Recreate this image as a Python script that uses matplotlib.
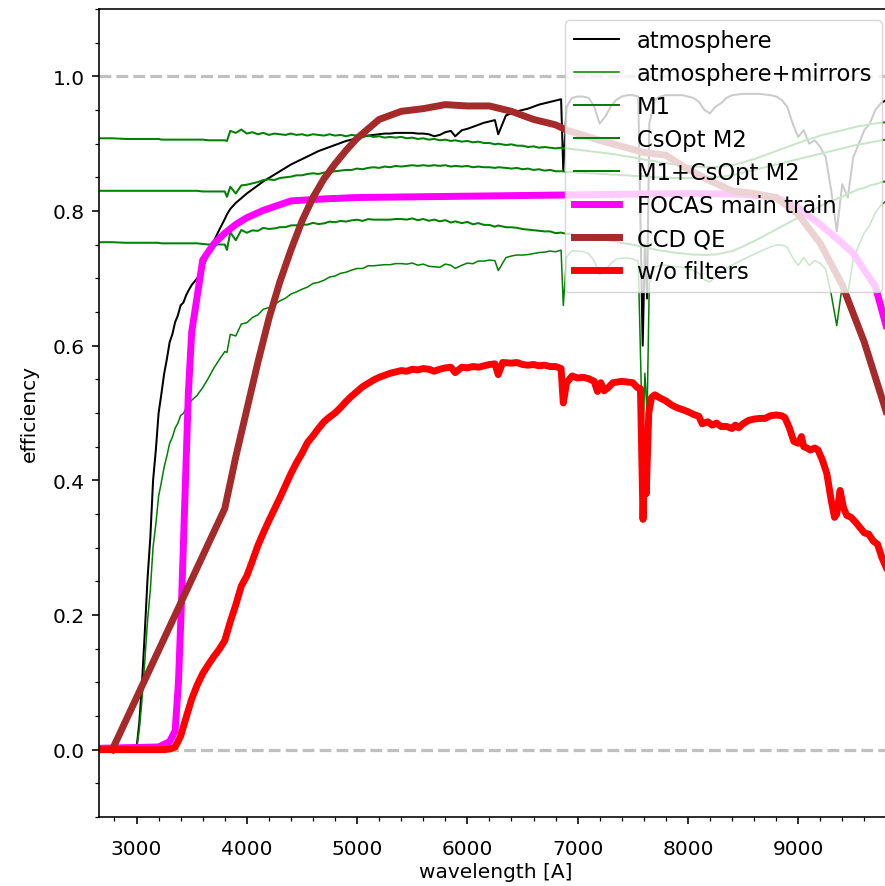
import numpy as np
import matplotlib
matplotlib.use("Agg")
import matplotlib.pyplot as plt

# shared wavelength grid for atmosphere and the two mirror reflectivities [A]
wave = [
    2650, 2780, 2900, 2950, 3000, 3025, 3050, 3075, 3100, 3125,
    3150, 3175, 3200, 3225, 3250, 3275, 3300, 3325, 3350, 3375,
    3400, 3425, 3450, 3475, 3500, 3550, 3600, 3650, 3700, 3750,
    3800, 3820, 3850, 3900, 3950, 4000, 4050, 4100, 4150, 4200,
    4250, 4300, 4350, 4400, 4450, 4500, 4550, 4600, 4650, 4700,
    4750, 4800, 4850, 4900, 4950, 5000, 5050, 5100, 5150, 5200,
    5250, 5300, 5350, 5400, 5450, 5500, 5550, 5600, 5650, 5700,
    5750, 5800, 5850, 5890, 5950, 6000, 6050, 6100, 6150, 6200,
    6250, 6280, 6350, 6400, 6450, 6500, 6550, 6600, 6650, 6700,
    6750, 6800, 6850, 6870, 6900, 6950, 7000, 7050, 7100, 7150,
    7200, 7250, 7300, 7350, 7400, 7450, 7500, 7550, 7590, 7610,
    7630, 7650, 7700, 7750, 7800, 7850, 7900, 7950, 8000, 8050,
    8100, 8150, 8200, 8250, 8300, 8350, 8400, 8450, 8500, 8550,
    8600, 8650, 8700, 8750, 8800, 8850, 8900, 8950, 9000, 9050,
    9100, 9150, 9200, 9250, 9300, 9350, 9400, 9450, 9500, 9550,
    9600, 9650, 9700, 9750, 9800, 9850]

atm = [
    0.000, 0.000, 0.000, 0.000, 0.002, 0.040, 0.100, 0.175, 0.255, 0.315,
    0.400, 0.445, 0.500, 0.528, 0.558, 0.580, 0.605, 0.617, 0.635, 0.645,
    0.660, 0.664, 0.675, 0.683, 0.690, 0.700, 0.716, 0.735, 0.755, 0.772,
    0.788, 0.795, 0.803, 0.812, 0.819, 0.826, 0.832, 0.838, 0.844, 0.849,
    0.854, 0.859, 0.864, 0.869, 0.873, 0.877, 0.881, 0.885, 0.889, 0.892,
    0.895, 0.898, 0.901, 0.904, 0.906, 0.908, 0.910, 0.912, 0.913, 0.914,
    0.915, 0.915, 0.916, 0.916, 0.916, 0.916, 0.915, 0.915, 0.914, 0.911,
    0.913, 0.917, 0.919, 0.911, 0.920, 0.922, 0.925, 0.928, 0.931, 0.933,
    0.935, 0.914, 0.942, 0.945, 0.948, 0.950, 0.952, 0.955, 0.958, 0.960,
    0.962, 0.964, 0.966, 0.860, 0.955, 0.968, 0.970, 0.970, 0.968, 0.955,
    0.930, 0.940, 0.955, 0.965, 0.970, 0.972, 0.972, 0.970, 0.600, 0.750,
    0.670, 0.930, 0.965, 0.970, 0.972, 0.972, 0.972, 0.972, 0.970, 0.968,
    0.962, 0.950, 0.945, 0.955, 0.960, 0.968, 0.972, 0.973, 0.974, 0.974,
    0.974, 0.974, 0.973, 0.972, 0.970, 0.965, 0.955, 0.930, 0.910, 0.920,
    0.900, 0.905, 0.895, 0.880, 0.830, 0.770, 0.840, 0.820, 0.880, 0.900,
    0.920, 0.930, 0.950, 0.960, 0.965, 0.965]

m1 = [
    0.908, 0.908, 0.907, 0.907, 0.907, 0.907, 0.907, 0.907, 0.907, 0.907,
    0.907, 0.907, 0.907, 0.906, 0.906, 0.906, 0.906, 0.906, 0.906, 0.906,
    0.906, 0.906, 0.906, 0.906, 0.906, 0.906, 0.906, 0.905, 0.905, 0.905,
    0.905, 0.904, 0.919, 0.916, 0.921, 0.915, 0.917, 0.914, 0.916, 0.913,
    0.915, 0.914, 0.913, 0.915, 0.913, 0.914, 0.912, 0.914, 0.913, 0.912,
    0.914, 0.912, 0.913, 0.911, 0.913, 0.912, 0.911, 0.912, 0.910, 0.911,
    0.909, 0.910, 0.909, 0.910, 0.908, 0.909, 0.907, 0.908, 0.906, 0.907,
    0.905, 0.906, 0.904, 0.905, 0.903, 0.904, 0.902, 0.903, 0.901, 0.901,
    0.899, 0.900, 0.898, 0.899, 0.897, 0.897, 0.895, 0.896, 0.894, 0.895,
    0.894, 0.893, 0.894, 0.893, 0.893, 0.892, 0.891, 0.890, 0.889, 0.888,
    0.887, 0.886, 0.885, 0.884, 0.882, 0.881, 0.880, 0.878, 0.877, 0.876,
    0.876, 0.875, 0.874, 0.872, 0.871, 0.870, 0.869, 0.868, 0.867, 0.866,
    0.866, 0.865, 0.865, 0.865, 0.866, 0.867, 0.868, 0.870, 0.872, 0.875,
    0.877, 0.880, 0.883, 0.886, 0.889, 0.892, 0.895, 0.898, 0.901, 0.904,
    0.907, 0.909, 0.912, 0.914, 0.916, 0.918, 0.920, 0.922, 0.924, 0.926,
    0.927, 0.929, 0.930, 0.931, 0.932, 0.933]

m2 = [
    0.830, 0.830, 0.830, 0.830, 0.830, 0.830, 0.830, 0.830, 0.830, 0.830,
    0.830, 0.830, 0.830, 0.830, 0.830, 0.830, 0.830, 0.830, 0.830, 0.830,
    0.830, 0.830, 0.830, 0.830, 0.830, 0.830, 0.829, 0.829, 0.829, 0.829,
    0.829, 0.821, 0.836, 0.826, 0.838, 0.839, 0.841, 0.843, 0.846, 0.847,
    0.846, 0.849, 0.850, 0.851, 0.853, 0.853, 0.855, 0.856, 0.855, 0.857,
    0.858, 0.859, 0.860, 0.861, 0.861, 0.863, 0.862, 0.864, 0.865, 0.864,
    0.866, 0.865, 0.867, 0.866, 0.867, 0.868, 0.867, 0.868, 0.867, 0.868,
    0.867, 0.868, 0.866, 0.867, 0.866, 0.867, 0.865, 0.866, 0.865, 0.865,
    0.864, 0.865, 0.864, 0.863, 0.864, 0.862, 0.863, 0.861, 0.862, 0.860,
    0.861, 0.859, 0.859, 0.859, 0.858, 0.858, 0.857, 0.857, 0.856, 0.856,
    0.855, 0.855, 0.854, 0.854, 0.853, 0.853, 0.852, 0.852, 0.852, 0.851,
    0.851, 0.851, 0.850, 0.850, 0.850, 0.849, 0.849, 0.849, 0.849, 0.849,
    0.849, 0.849, 0.850, 0.850, 0.851, 0.852, 0.853, 0.855, 0.857, 0.859,
    0.861, 0.863, 0.865, 0.867, 0.869, 0.871, 0.873, 0.875, 0.877, 0.879,
    0.881, 0.883, 0.885, 0.887, 0.889, 0.891, 0.893, 0.895, 0.897, 0.899,
    0.900, 0.902, 0.903, 0.905, 0.906, 0.907]

# FOCAS main optics throughput
focas_wave = [2650, 3200, 3300, 3350, 3380, 3410, 3440, 3470, 3500, 3600,
              3700, 3800, 3900, 4000, 4150, 4400, 4700, 5000, 6000, 7000,
              8000, 8500, 8800, 9000, 9200, 9400, 9500, 9600, 9700, 9800, 9850]
focas = [0.002, 0.004, 0.012, 0.028, 0.100, 0.230, 0.380, 0.530, 0.620, 0.727,
         0.751, 0.767, 0.780, 0.790, 0.801, 0.815, 0.818, 0.820, 0.822, 0.824,
         0.826, 0.825, 0.820, 0.805, 0.780, 0.752, 0.737, 0.712, 0.688, 0.628, 0.600]

# CCD quantum efficiency
ccd_wave = [2780, 3800, 3900, 4000, 4100, 4200, 4300, 4400, 4500, 4600,
            4700, 4800, 4900, 5000, 5200, 5400, 5600, 5800, 6000, 6200,
            6400, 6600, 6800, 6900, 7200, 7600, 7800, 8000, 8200, 8400,
            8600, 8800, 9000, 9200, 9400, 9600, 9850]
ccd = [0.000, 0.358, 0.435, 0.505, 0.575, 0.640, 0.695, 0.742, 0.785, 0.820,
       0.848, 0.870, 0.890, 0.908, 0.936, 0.948, 0.952, 0.958, 0.956, 0.956,
       0.948, 0.936, 0.928, 0.920, 0.905, 0.887, 0.883, 0.862, 0.845, 0.830,
       0.826, 0.820, 0.795, 0.752, 0.690, 0.605, 0.475]

# total efficiency without filters
red_wave = [
    2650, 3250, 3300, 3350, 3400, 3450, 3500, 3550, 3600, 3650,
    3700, 3750, 3800, 3850, 3900, 3950, 4000, 4050, 4100, 4150,
    4200, 4250, 4300, 4350, 4400, 4450, 4500, 4550, 4600, 4650,
    4700, 4750, 4800, 4850, 4900, 4950, 5000, 5050, 5100, 5150,
    5200, 5250, 5300, 5350, 5400, 5450, 5500, 5550, 5600, 5650,
    5700, 5750, 5800, 5850, 5890, 5950, 6000, 6050, 6100, 6150,
    6200, 6250, 6280, 6320, 6400, 6450, 6500, 6550, 6600, 6650,
    6700, 6750, 6800, 6850, 6870, 6900, 6950, 7000, 7050, 7100,
    7150, 7180, 7210, 7240, 7280, 7320, 7400, 7450, 7500, 7540,
    7570, 7593, 7610, 7622, 7645, 7670, 7700, 7750, 7800, 7850,
    7900, 7950, 8000, 8050, 8100, 8130, 8180, 8220, 8260, 8300,
    8350, 8400, 8430, 8460, 8500, 8550, 8600, 8650, 8700, 8750,
    8800, 8850, 8880, 8920, 8960, 9000, 9030, 9050, 9080, 9110,
    9150, 9180, 9220, 9260, 9300, 9330, 9350, 9380, 9410, 9440,
    9480, 9520, 9560, 9600, 9640, 9680, 9720, 9760, 9800, 9850]
red_eff = [
    0.000, 0.000, 0.001, 0.004, 0.020, 0.048, 0.075, 0.096, 0.113, 0.126,
    0.138, 0.149, 0.162, 0.190, 0.215, 0.243, 0.258, 0.280, 0.303, 0.322,
    0.340, 0.357, 0.374, 0.392, 0.410, 0.426, 0.440, 0.456, 0.466, 0.477,
    0.487, 0.494, 0.500, 0.508, 0.517, 0.525, 0.532, 0.539, 0.544, 0.549,
    0.553, 0.556, 0.559, 0.561, 0.563, 0.562, 0.565, 0.564, 0.566, 0.565,
    0.562, 0.565, 0.567, 0.568, 0.560, 0.568, 0.567, 0.569, 0.568, 0.570,
    0.572, 0.573, 0.557, 0.575, 0.574, 0.575, 0.572, 0.571, 0.572, 0.570,
    0.571, 0.569, 0.569, 0.566, 0.515, 0.545, 0.555, 0.552, 0.553, 0.551,
    0.547, 0.532, 0.545, 0.533, 0.538, 0.545, 0.547, 0.546, 0.545, 0.538,
    0.536, 0.342, 0.450, 0.380, 0.500, 0.523, 0.527, 0.522, 0.518, 0.512,
    0.508, 0.505, 0.502, 0.498, 0.495, 0.484, 0.487, 0.482, 0.485, 0.480,
    0.480, 0.477, 0.482, 0.478, 0.484, 0.489, 0.491, 0.492, 0.492, 0.496,
    0.497, 0.496, 0.493, 0.478, 0.458, 0.455, 0.465, 0.450, 0.448, 0.445,
    0.448, 0.445, 0.430, 0.410, 0.370, 0.345, 0.350, 0.385, 0.360, 0.348,
    0.345, 0.338, 0.330, 0.322, 0.320, 0.310, 0.305, 0.285, 0.270, 0.260]

assert len(wave) == len(atm) == len(m1) == len(m2)
assert len(focas_wave) == len(focas) and len(ccd_wave) == len(ccd)
assert len(red_wave) == len(red_eff)

wave = np.array(wave)
atm, m1, m2 = np.array(atm), np.array(m1), np.array(m2)
mirrors = m1 * m2

plt.rcParams['font.size'] = 14.5
plt.rcParams['axes.linewidth'] = 1.16
for ax_name in ('xtick', 'ytick'):
    plt.rcParams[f'{ax_name}.major.size'] = 5
    plt.rcParams[f'{ax_name}.minor.size'] = 2.9
    plt.rcParams[f'{ax_name}.major.width'] = 1.16
    plt.rcParams[f'{ax_name}.minor.width'] = 0.87
plt.rcParams['ytick.major.pad'] = 5
plt.rcParams['xtick.major.pad'] = 11

fig = plt.figure(figsize=(8.85, 8.87), dpi=100)
ax = fig.add_axes([98.5 / 885, 69 / 887, (893 - 98.5) / 885, 808 / 887])

ax.axhline(0, ls='--', color='silver', lw=2.3)
ax.axhline(1, ls='--', color='silver', lw=2.3)

ax.plot(wave, atm, color='k', lw=1.45, label='atmosphere')
ax.plot(wave, atm * mirrors, color='green', lw=1.1, label='atmosphere+mirrors')
ax.plot(wave, m1, color='green', lw=1.45, label='M1')
ax.plot(wave, m2, color='green', lw=1.45, label='CsOpt M2')
ax.plot(wave, mirrors, color='green', lw=1.45, label='M1+CsOpt M2')
ax.plot(focas_wave, focas, color='magenta', lw=5, label='FOCAS main train')
ax.plot(ccd_wave, ccd, color='brown', lw=5, label='CCD QE')
ax.plot(red_wave, red_eff, color='red', lw=5, label='w/o filters')

ax.set_xlim(2655, 9860)
ax.set_ylim(-0.1, 1.1)
ax.minorticks_on()
ax.set_xlabel('wavelength [A]', labelpad=3)
ax.set_ylabel('efficiency', labelpad=9.5)
ax.legend(loc='upper right', fontsize=16.3, labelspacing=0.44)

fig.savefig('out.png', dpi=100)
